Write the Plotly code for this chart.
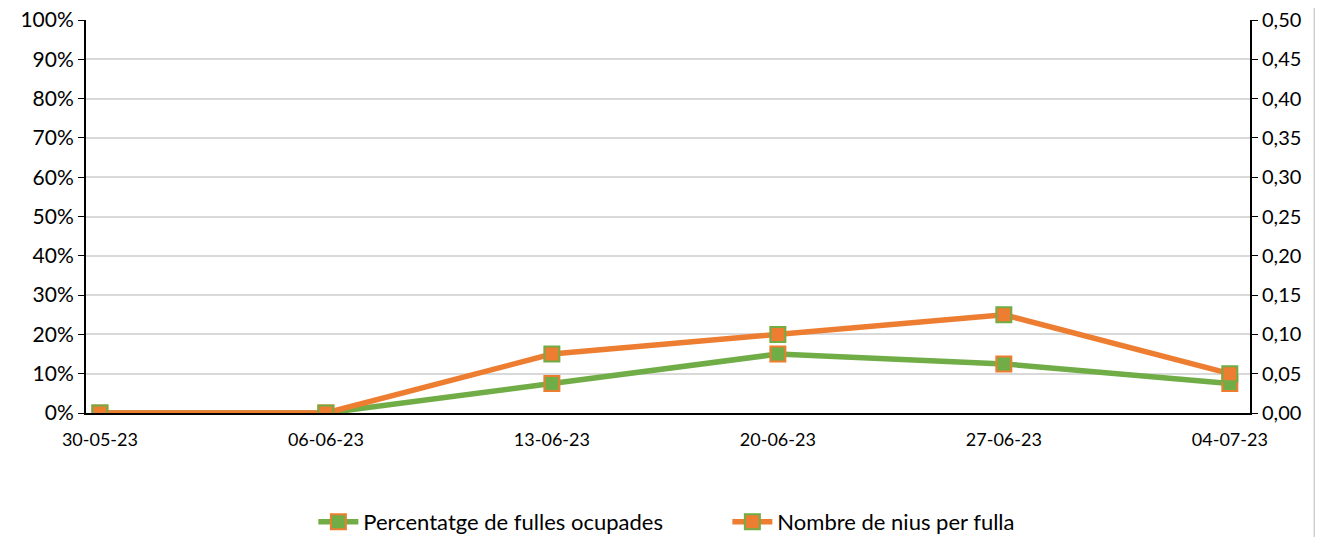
import plotly.graph_objects as go

dates = ["2023-05-30", "2023-06-06", "2023-06-13", "2023-06-20", "2023-06-27", "2023-07-04"]
date_labels = ["30-05-23", "06-06-23", "13-06-23", "20-06-23", "27-06-23", "04-07-23"]
pct_fulles = [0.0, 0.0, 0.075, 0.15, 0.125, 0.075]
nius_fulla = [0.0, 0.0, 0.075, 0.10, 0.125, 0.05]

GREEN = "#70ad47"
ORANGE = "#ed7d31"
FONT = "Lato, 'Open Sans', sans-serif"

fig = go.Figure()
fig.add_trace(go.Scatter(
    x=dates, y=pct_fulles, name="Percentatge de fulles ocupades",
    mode="lines+markers", yaxis="y",
    line=dict(color=GREEN, width=5.5),
    marker=dict(symbol="square", size=15, color=GREEN, line=dict(color=ORANGE, width=2)),
))
fig.add_trace(go.Scatter(
    x=dates, y=nius_fulla, name="Nombre de nius per fulla",
    mode="lines+markers", yaxis="y2",
    line=dict(color=ORANGE, width=5.5),
    marker=dict(symbol="square", size=15, color=ORANGE, line=dict(color=GREEN, width=2)),
))

# page body has an 8px margin, so the figure is sized/placed to compensate
fig.update_layout(
    width=1321, height=529,
    margin=dict(l=78, r=79, t=12, b=124, autoexpand=False),
    paper_bgcolor="white", plot_bgcolor="white",
    separators=",.",
    font=dict(family=FONT, size=20, color="black"),
    showlegend=True,
    legend=dict(orientation="h", x=0.551, xanchor="center", y=-0.277, yanchor="middle",
                font=dict(size=22), itemwidth=40, traceorder="normal",
                entrywidth=359, entrywidthmode="pixels"),
    xaxis=dict(
        type="date",
        range=["2023-05-29 13:40", "2023-07-04 15:00"],
        tickvals=dates, ticktext=date_labels,
        showgrid=False, showline=True, linecolor="black", linewidth=2,
        ticks="", ticklabelstandoff=9, tickfont=dict(size=18), zeroline=False, automargin=False,
        ticklabeloverflow="allow",
    ),
    yaxis=dict(
        range=[0, 1], dtick=0.1, tickformat=".0%",
        showgrid=True, gridcolor="#d9d9d9", gridwidth=2,
        showline=True, linecolor="black", linewidth=2,
        ticks="outside", ticklen=6, tickcolor="black", tickwidth=1,
        tickfont=dict(size=21), ticklabeloverflow="allow",
        zeroline=False, automargin=False,
    ),
    yaxis2=dict(
        range=[0, 0.5], dtick=0.05, tickformat=".2f",
        overlaying="y", side="right", showgrid=False,
        showline=True, linecolor="black", linewidth=2,
        ticks="outside", ticklen=6, tickcolor="black", tickwidth=1,
        tickfont=dict(size=20), ticklabeloverflow="allow",
        zeroline=False, automargin=False,
    ),
    shapes=[dict(type="line", xref="paper", yref="paper", x0=1.0552, x1=1.0552, y0=-0.4, y1=1.1,
                 line=dict(color="#d0d0d0", width=1.5))],
)

fig.write_html("out.html")
